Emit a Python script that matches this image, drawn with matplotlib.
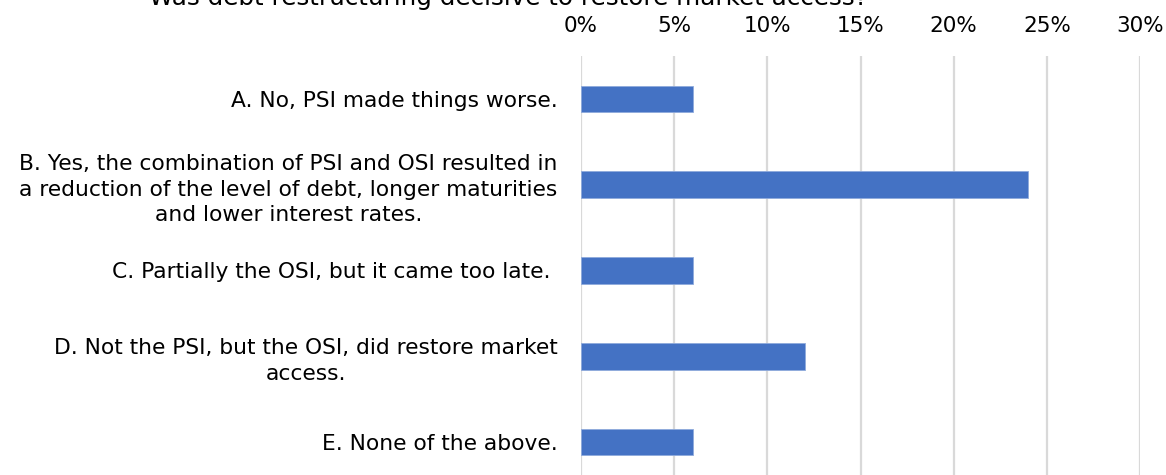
import matplotlib
matplotlib.use("Agg")
import matplotlib.pyplot as plt
from matplotlib.ticker import PercentFormatter

categories = [
    "A. No, PSI made things worse.",
    "B. Yes, the combination of PSI and OSI resulted in\na reduction of the level of debt, longer maturities\nand lower interest rates.",
    "C. Partially the OSI, but it came too late. ",
    "D. Not the PSI, but the OSI, did restore market\naccess.",
    "E. None of the above.",
]
shares = [6, 24, 6, 12, 6]
xticks = [0, 5, 10, 15, 20, 25, 30]
title = "Was debt restructuring decisive to restore market access?"

plt.rcParams["font.family"] = ["DejaVu Sans"]

fig = plt.figure(figsize=(11.66, 4.75), dpi=100)
W, H = 1166, 475
left, right, top, bottom = 581, 1140, 56, 485
ax = fig.add_axes([left / W, (H - bottom) / H, (right - left) / W, (bottom - top) / H])

ypos = list(range(len(categories)))
ax.barh(ypos, shares, height=0.31, color="#4472C4", edgecolor="#8FAADC",
        linewidth=0.6, zorder=3)

ax.set_xlim(0, 30)
ax.set_ylim(len(categories) - 0.5, -0.5)
ax.set_xticks(xticks)
ax.xaxis.set_major_formatter(PercentFormatter(decimals=0))
ax.xaxis.tick_top()
ax.tick_params(axis="x", length=0, pad=14.5, labelsize=15.5, colors="#000000")
ax.set_yticks(ypos)
ax.set_yticklabels(categories, fontsize=15.7, multialignment="center",
                   linespacing=1.36)
ax.tick_params(axis="y", length=0, pad=17)
ax.grid(axis="x", color="#D9D9D9", linewidth=1.6, zorder=0)
for s in ax.spines.values():
    s.set_visible(False)

fig.text(508 / W, (H - 5) / H, title, ha="center", va="baseline",
         fontsize=17.7, color="#000000")

fig.savefig("out.png", dpi=100)
